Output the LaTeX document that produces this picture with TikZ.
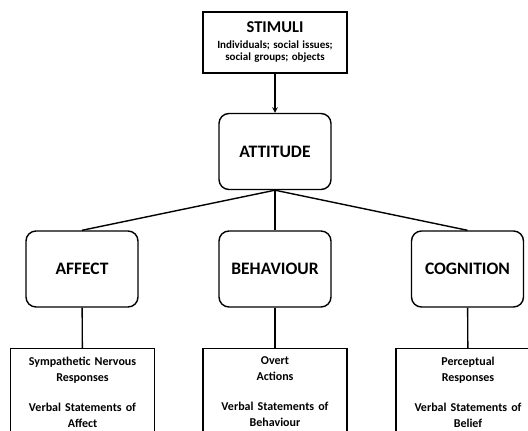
\documentclass[tikz,border=0pt]{standalone}
\usepackage{fontspec}
\setmainfont{Carlito}

\begin{document}
\begin{tikzpicture}[x = 1pt, y = -1pt, line width = 1.4pt, >= stealth,
    topbox/.style = {draw, minimum width = 144pt, minimum height = 61pt,
        text width = 142pt, align = center, inner sep = 1pt},
    midbox/.style = {draw, rounded corners = 10pt, minimum width = 112pt,
        minimum height = 76pt, font = \fontsize{17.5}{20}\selectfont\bfseries},
    lowbox/.style = {draw, anchor = north, text width = 136pt, align = center,
        inner xsep = 4pt, inner ysep = 8pt, text depth = 60pt,
        font = \fontsize{12}{16}\selectfont\bfseries}]

% The page is as large as the reference, the lower boxes run out of it.
    \useasboundingbox (0, 0) rectangle (528, 431);
    \clip (0, 0) rectangle (528, 431);

    \node [topbox] (stimuli) at (275, 42.5)
        {\bfseries\fontsize{16.5}{18}\selectfont STIMULI\\[1pt]
         \fontsize{11}{15}\selectfont Individuals; social issues;\\ social groups; objects};

    \node [midbox] (attitude) at (275, 151.5) {ATTITUDE};

% Three components of the attitude.
    \node [midbox] (affect) at (82, 269) {AFFECT};
    \node [midbox] (behaviour) at (275, 269) {BEHAVIOUR};
    \node [midbox] (cognition) at (467.5, 269) {COGNITION};

    \node [lowbox] (affresp) at (82.5, 348)
        {Sympathetic Nervous\\ Responses\\[14pt] Verbal Statements of\\ Affect};
    \node [lowbox] (behresp) at (275, 348)
        {Overt\\ Actions\\[14pt] Verbal Statements of\\ Behaviour};
    \node [lowbox] (cogresp) at (468, 348)
        {Perceptual\\ Responses\\[14pt] Verbal Statements of\\ Belief};

    \draw [->] (stimuli) -- (attitude);
    \draw (attitude.south) -- (affect.north);
    \draw (attitude.south) -- (behaviour.north);
    \draw (attitude.south) -- (cognition.north);

    \draw (affect) -- (affresp);
    \draw (behaviour) -- (behresp);
    \draw (cognition) -- (cogresp);

\end{tikzpicture}
\end{document}
